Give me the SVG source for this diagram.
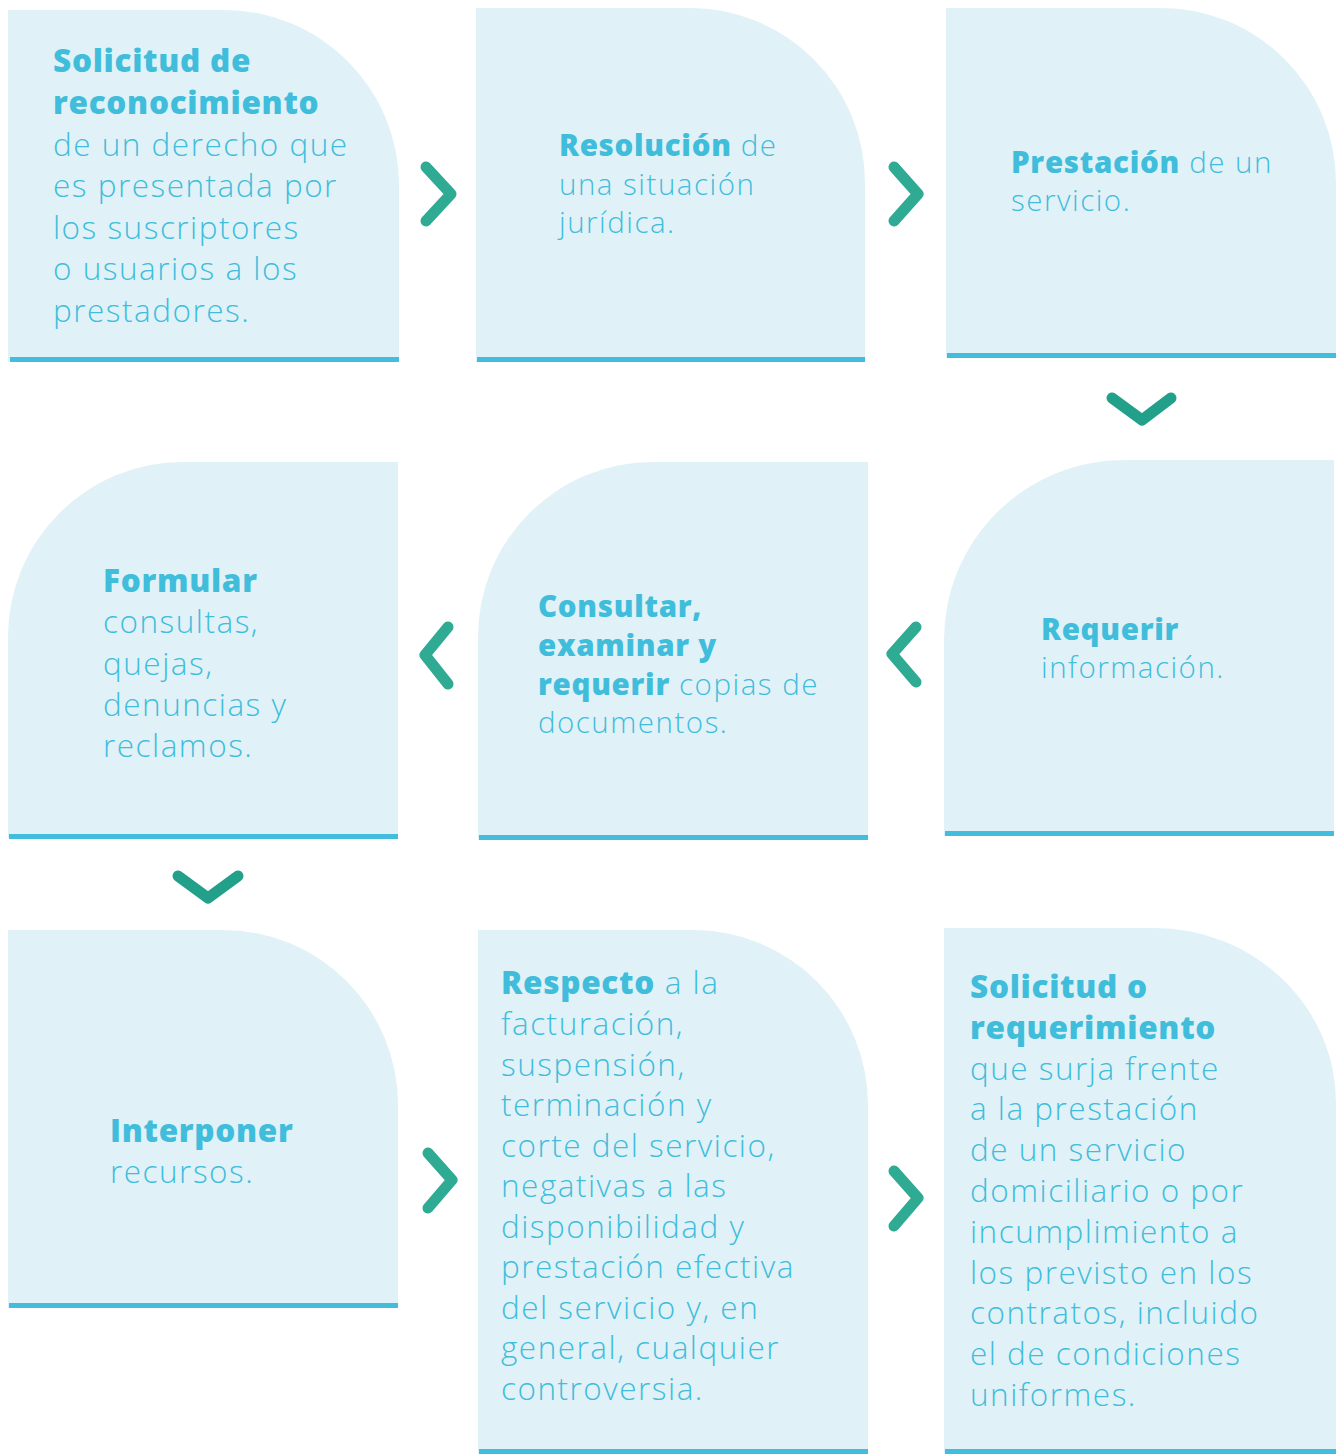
<svg xmlns="http://www.w3.org/2000/svg" width="1338" height="1454" viewBox="0 0 1338 1454">
<style>
.card{fill:#e0f2f7}
.bar{fill:#42bedc}
.t{font-family:"Open Sans",Lato,sans-serif;font-weight:300;fill:#41bddc;letter-spacing:1.5px}
.L{font-size:31.5px}
.S{font-size:29.5px}
.b{font-weight:800;letter-spacing:0.7px}
.chev{fill:none;stroke:#2faa93;stroke-width:11;stroke-linecap:round;stroke-linejoin:round}
.chevd{fill:none;stroke:#23a089;stroke-width:11;stroke-linecap:round;stroke-linejoin:round}
</style>
<rect width="1338" height="1454" fill="#ffffff"/>

<g id="n1">
<path class="card" d="M8,10 H224 A175,175 0 0 1 399,185 V362 H8 Z"/>
<rect class="bar" x="10" y="357" width="389" height="5"/>
<text class="t L"><tspan class="b" x="53" y="72">Solicitud de</tspan><tspan class="b" x="53" y="114">reconocimiento</tspan><tspan x="53" y="156">de un derecho que</tspan><tspan x="53" y="197">es presentada por</tspan><tspan x="53" y="239">los suscriptores</tspan><tspan x="53" y="280">o usuarios a los</tspan><tspan x="53" y="322">prestadores.</tspan></text>
</g>

<g id="n2">
<path class="card" d="M476,8 H690 A175,175 0 0 1 865,183 V362 H476 Z"/>
<rect class="bar" x="477" y="357" width="388" height="5"/>
<text class="t S"><tspan x="559" y="156"><tspan class="b">Resolución</tspan> de</tspan><tspan x="559" y="195">una situación</tspan><tspan x="559" y="233">jurídica.</tspan></text>
</g>

<g id="n3">
<path class="card" d="M946,8 H1161 A175,175 0 0 1 1336,183 V358 H946 Z"/>
<rect class="bar" x="947" y="353" width="389" height="5"/>
<text class="t S"><tspan x="1011" y="173"><tspan class="b">Prestación</tspan> de un</tspan><tspan x="1011" y="211">servicio.</tspan></text>
</g>

<g id="n4">
<path class="card" d="M8,838 V637 A175,175 0 0 1 183,462 H398 V838 Z"/>
<rect class="bar" x="9" y="834" width="389" height="5"/>
<text class="t L"><tspan class="b" x="103" y="592">Formular</tspan><tspan x="103" y="633">consultas,</tspan><tspan x="103" y="675">quejas,</tspan><tspan x="103" y="716">denuncias y</tspan><tspan x="103" y="757">reclamos.</tspan></text>
</g>

<g id="n5">
<path class="card" d="M478,840 V637 A175,175 0 0 1 653,462 H868 V840 Z"/>
<rect class="bar" x="479" y="835" width="389" height="5"/>
<text class="t S"><tspan class="b" x="538" y="617">Consultar,</tspan><tspan class="b" x="538" y="656">examinar y</tspan><tspan x="538" y="695"><tspan class="b">requerir</tspan> copias de</tspan><tspan x="538" y="733">documentos.</tspan></text>
</g>

<g id="n6">
<path class="card" d="M944,836 V640 A180,180 0 0 1 1124,460 H1334 V836 Z"/>
<rect class="bar" x="945" y="831" width="389" height="5"/>
<text class="t S"><tspan class="b" x="1041" y="640">Requerir</tspan><tspan x="1041" y="678">información.</tspan></text>
</g>

<g id="n7">
<path class="card" d="M8,930 H223 A175,175 0 0 1 398,1105 V1308 H8 Z"/>
<rect class="bar" x="9" y="1303" width="389" height="5"/>
<text class="t L"><tspan class="b" x="110" y="1142">Interponer</tspan><tspan x="110" y="1183">recursos.</tspan></text>
</g>

<g id="n8">
<path class="card" d="M478,930 H693 A175,175 0 0 1 868,1105 V1454 H478 Z"/>
<rect class="bar" x="479" y="1449" width="389" height="5"/>
<text class="t L"><tspan x="501" y="994"><tspan class="b">Respecto</tspan> a la</tspan><tspan x="501" y="1035">facturación,</tspan><tspan x="501" y="1076">suspensión,</tspan><tspan x="501" y="1116">terminación y</tspan><tspan x="501" y="1157">corte del servicio,</tspan><tspan x="501" y="1197">negativas a las</tspan><tspan x="501" y="1238">disponibilidad y</tspan><tspan x="501" y="1278">prestación efectiva</tspan><tspan x="501" y="1319">del servicio y, en</tspan><tspan x="501" y="1359">general, cualquier</tspan><tspan x="501" y="1400">controversia.</tspan></text>
</g>

<g id="n9">
<path class="card" d="M944,928 H1154 A182,175 0 0 1 1336,1103 V1454 H944 Z"/>
<rect class="bar" x="945" y="1449" width="391" height="5"/>
<text class="t L"><tspan class="b" x="970" y="998">Solicitud o</tspan><tspan class="b" x="970" y="1039">requerimiento</tspan><tspan x="970" y="1080">que surja frente</tspan><tspan x="970" y="1120">a la prestación</tspan><tspan x="970" y="1161">de un servicio</tspan><tspan x="970" y="1202">domiciliario o por</tspan><tspan x="970" y="1243">incumplimiento a</tspan><tspan x="970" y="1284">los previsto en los</tspan><tspan x="970" y="1324">contratos, incluido</tspan><tspan x="970" y="1365">el de condiciones</tspan><tspan x="970" y="1406">uniformes.</tspan></text>
</g>

<g id="connectors">
<path class="chev" d="M426,167 L451,194 L426,221"/>
<path class="chev" d="M894,167 L918,194 L894,221"/>
<path class="chevd" d="M1112,398 L1142,420 L1171,398"/>
<path class="chev" d="M916,627 L892,654 L916,682"/>
<path class="chev" d="M448,627 L425,655 L448,684"/>
<path class="chevd" d="M178,876 L208,898 L238,876"/>
<path class="chev" d="M428,1153 L452,1180 L428,1208"/>
<path class="chev" d="M894,1171 L918,1198 L894,1226"/>
</g>
</svg>
